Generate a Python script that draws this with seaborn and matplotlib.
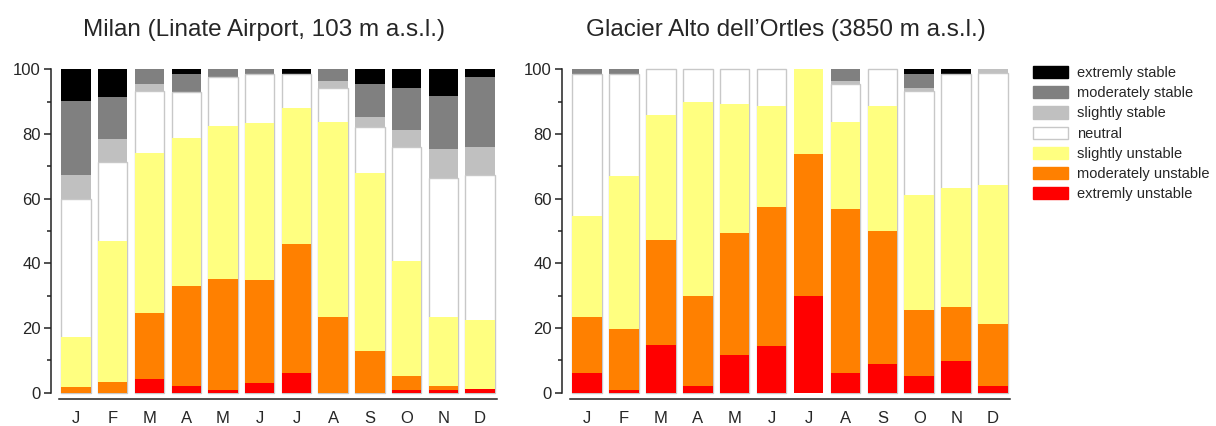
import numpy as np
import pandas as pd
import matplotlib
matplotlib.use("Agg")
import matplotlib.pyplot as plt
import seaborn as sns
from matplotlib.patches import Patch

sns.set_style("white")
plt.rcParams['font.family'] = ['Liberation Sans', 'DejaVu Sans']

# months (unique keys for seaborn) and the initials shown on the axis
months = ['Jan', 'Feb', 'Mar', 'Apr', 'May', 'Jun', 'Jul', 'Aug', 'Sep', 'Oct', 'Nov', 'Dec']
month_labels = ['J', 'F', 'M', 'A', 'M', 'J', 'J', 'A', 'S', 'O', 'N', 'D']

classes = ['extremly unstable', 'moderately unstable', 'slightly unstable', 'neutral',
           'slightly stable', 'moderately stable', 'extremly stable']
class_colors = ['#ff0000', '#ff8000', '#ffff80', '#ffffff', '#c0c0c0', '#808080', '#000000']

# frequency (%) of each stability class, Milan
milan_ext_unst = [0.0, 0.0, 4.1, 2.1, 0.8, 3.1, 6.2, 0.0, 0.0, 0.8, 0.8, 1.0]
milan_mod_unst = [1.9, 3.3, 20.5, 31.0, 34.4, 31.8, 39.9, 23.5, 13.0, 4.4, 1.2, 0.0]
milan_sl_unst = [15.2, 43.6, 49.5, 45.6, 47.3, 48.5, 41.9, 60.3, 55.0, 35.5, 21.3, 21.5]
milan_neutral = [42.8, 24.6, 19.3, 14.4, 15.1, 15.3, 10.7, 10.6, 14.2, 35.4, 43.2, 45.0]
milan_sl_st = [7.6, 7.1, 2.1, 0.0, 0.0, 0.0, 0.0, 2.0, 3.2, 5.3, 8.8, 8.6]
milan_mod_st = [22.6, 12.9, 4.5, 5.6, 2.4, 1.3, 0.0, 3.6, 10.0, 12.9, 16.6, 21.5]
milan_ext_st = [9.9, 8.5, 0.0, 1.3, 0.0, 0.0, 1.3, 0.0, 4.6, 5.7, 8.1, 2.4]

# frequency (%) of each stability class, Glacier Alto dell'Ortles
ortles_ext_unst = [6.2, 0.9, 14.8, 2.1, 11.6, 14.3, 29.9, 6.2, 8.8, 5.2, 9.8, 2.0]
ortles_mod_unst = [17.3, 18.9, 32.3, 27.7, 37.7, 43.3, 44.0, 50.6, 41.1, 20.5, 16.7, 19.3]
ortles_sl_unst = [31.3, 47.1, 38.9, 60.1, 39.9, 31.2, 26.1, 27.0, 38.9, 35.5, 36.7, 43.1]
ortles_neutral = [43.9, 31.8, 14.0, 10.1, 10.8, 11.2, 0.0, 11.8, 11.2, 32.2, 35.5, 34.4]
ortles_sl_st = [0.0, 0.0, 0.0, 0.0, 0.0, 0.0, 0.0, 0.8, 0.0, 0.9, 0.0, 1.2]
ortles_mod_st = [1.3, 1.3, 0.0, 0.0, 0.0, 0.0, 0.0, 3.6, 0.0, 4.4, 0.0, 0.0]
ortles_ext_st = [0.0, 0.0, 0.0, 0.0, 0.0, 0.0, 0.0, 0.0, 0.0, 1.3, 1.3, 0.0]

milan = [milan_ext_unst, milan_mod_unst, milan_sl_unst, milan_neutral,
         milan_sl_st, milan_mod_st, milan_ext_st]
ortles = [ortles_ext_unst, ortles_mod_unst, ortles_sl_unst, ortles_neutral,
          ortles_sl_st, ortles_mod_st, ortles_ext_st]


def stacked_panel(ax, layers, title, title_x=0.5):
    # cumulative heights, drawn from the top class down so lower classes cover upper ones
    cum = np.cumsum(np.array(layers), axis=0)
    for i in range(len(classes) - 1, -1, -1):
        df = pd.DataFrame({'month': months, 'value': cum[i]})
        neutral = classes[i] == 'neutral'
        sns.barplot(data=df, x='month', y='value', order=months, color=class_colors[i],
                    saturation=1, width=0.8, edgecolor='#c8c8c8' if neutral else 'none',
                    linewidth=1.0 if neutral else 0, ax=ax)
        # hide classes that do not occur in a month
        for bar, v in zip(ax.containers[-1], layers[i]):
            if v <= 0:
                bar.set_visible(False)
    ax.set_ylim(0, 100)
    ax.set_xlim(-0.69, 11.46)
    ax.set_xticks(range(12))
    ax.set_xticklabels(month_labels)
    ax.set_xlabel('')
    ax.set_ylabel('')
    ax.set_yticks([0, 20, 40, 60, 80, 100])
    ax.set_yticks([10, 30, 50, 70, 90], minor=True)
    ax.tick_params(axis='y', which='major', direction='out', length=5, width=1.1,
                   pad=2, labelsize=12, left=True, color='#222222')
    ax.tick_params(axis='y', which='minor', direction='out', length=3, width=1.1,
                   left=True, color='#222222')
    ax.tick_params(axis='x', length=0, pad=8.5, labelsize=12)
    for s in ['top', 'right']:
        ax.spines[s].set_visible(False)
    ax.spines['left'].set_bounds(0, 100)
    ax.spines['left'].set_linewidth(1.1)
    ax.spines['left'].set_color('#222222')
    ax.spines['bottom'].set_position(('outward', 4.5))
    ax.spines['bottom'].set_bounds(-0.46, 11.46)
    ax.spines['bottom'].set_linewidth(1.1)
    ax.spines['bottom'].set_color('#222222')
    for p in ax.patches:
        p.set_clip_on(False)
    ax.set_title(title, fontsize=17.5, pad=24, x=title_x)


fig = plt.figure(figsize=(12.16, 4.26), dpi=100)
ax1 = fig.add_axes([0.0417, 0.0782, 0.367, 0.7587])
ax2 = fig.add_axes([0.4619, 0.0782, 0.3687, 0.7587])

stacked_panel(ax1, milan, 'Milan (Linate Airport, 103 m a.s.l.)', title_x=0.477)
stacked_panel(ax2, ortles, 'Glacier Alto dell\u2019Ortles (3850 m a.s.l.)')

handles = []
for i in range(len(classes) - 1, -1, -1):
    edge = '#c8c8c8' if classes[i] == 'neutral' else class_colors[i]
    handles.append(Patch(facecolor=class_colors[i], edgecolor=edge, label=classes[i]))
fig.legend(handles=handles, loc='upper left', bbox_to_anchor=(1033 / 1216, 1 - 66 / 426),
           frameon=False, fontsize=10.5, handlelength=2.4, handleheight=0.9,
           labelspacing=0.42, handletextpad=0.6, borderpad=0, borderaxespad=0)

fig.savefig('out.png', dpi=100)
